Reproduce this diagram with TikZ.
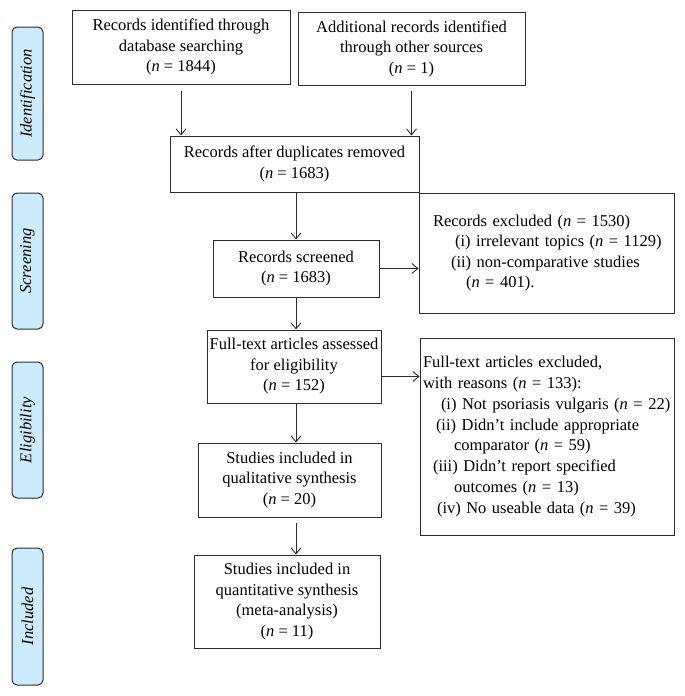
\documentclass[tikz,border=0pt]{standalone}
\usepackage{fontspec}
\setmainfont{Liberation Serif}
\usepackage{xcolor}
\usetikzlibrary{positioning,arrows,arrows.meta}

\definecolor{stageblue}{RGB}{204,235,252}
\definecolor{lineg}{RGB}{45,45,45}

\tikzset{
  box/.style={rectangle, draw=lineg, line width=1pt, align=center, inner sep=2pt,
    font=\fontsize{16.5}{20.5}\selectfont},
  excl/.style={box, align=left, inner xsep=3pt},
  stage/.style={rectangle, rounded corners=5pt, draw=lineg, fill=stageblue, line width=1pt,
    rotate=90, minimum height=31pt, font=\fontsize{16.5}{19}\selectfont\itshape},
  flow/.style={-{Straight Barb[length=6pt, width=10pt]}, draw=lineg, line width=0.9pt}
}

\begin{document}
\begin{tikzpicture}[x=1pt, y=-1pt]
    \useasboundingbox (0,0) rectangle (685,696);

    % Stages
    \node[stage, minimum width=133pt] (sident) at (27.5,93.5) {Identification};
    \node[stage, minimum width=136pt] (sscreen) at (27.5,261) {Screening};
    \node[stage, minimum width=136pt] (selig) at (27.5,430) {Eligibility};
    \node[stage, minimum width=137pt] (sincl) at (27.5,616.5) {Included};

    % Nodes
    \node[box, minimum width=218pt, minimum height=74pt] (dbrec) at (181,47) {Records identified through\\database searching\\(\textit{n} = 1844)};
    \node[box, minimum width=227pt, minimum height=73pt] (otherrec) at (411.5,48.5) {Additional records identified\\through other sources\\(\textit{n} = 1)};
    \node[box, minimum width=249pt, minimum height=56pt] (dedup) at (294.5,164) {Records after duplicates removed\\(\textit{n} = 1683)};
    \node[box, minimum width=166pt, minimum height=57pt] (screened) at (296,268.5) {Records screened\\(\textit{n} = 1683)};
    \node[box, minimum width=174pt, minimum height=73pt] (fulltext) at (294,366.5) {Full-text articles assessed\\for eligibility\\(\textit{n} = 152)};
    \node[box, minimum width=183pt, minimum height=74pt] (qual) at (289.5,480) {Studies included in\\qualitative synthesis\\(\textit{n} = 20)};
    \node[box, minimum width=186pt, minimum height=93pt] (quant) at (287,601.5) {Studies included in\\quantitative synthesis\\(meta-analysis)\\(\textit{n} = 11)};

    % Exclusions
    \node[excl, text width=249pt, minimum height=120pt] (exscreen) at (546.5,253) {%
      \hspace*{11pt}Records excluded (\textit{n} = 1530)\\
      \hspace*{33pt}(i) irrelevant topics (\textit{n} = 1129)\\
      \hspace*{29pt}(ii) non-comparative studies\\
      \hspace*{44pt}(\textit{n} = 401).};
    \node[excl, text width=248pt, minimum height=197pt, font=\fontsize{16.5}{20.8}\selectfont] (exfull) at (547,436.5) {%
      Full-text articles excluded,\\
      with reasons (\textit{n} = 133):\\
      \hspace*{18pt}(i) Not psoriasis vulgaris (\textit{n} = 22)\\
      \hspace*{13pt}(ii) Didn't include appropriate\\
      \hspace*{31pt}comparator (\textit{n} = 59)\\
      \hspace*{10pt}(iii) Didn't report specified\\
      \hspace*{31pt}outcomes (\textit{n} = 13)\\
      \hspace*{14pt}(iv) No useable data (\textit{n} = 39)};

    % Arrows
    \coordinate (spine) at (296,0);
    \draw[flow] (dbrec.south) ++(0,6) -- (dbrec.south |- dedup.north);
    \draw[flow] (otherrec.south) ++(0,5) -- (otherrec.south |- dedup.north);
    \draw[flow] (dedup.south -| spine) -- (screened.north -| spine);
    \draw[flow] (screened.south -| spine) -- (fulltext.north -| spine);
    \draw[flow] (fulltext.south -| spine) -- (qual.north -| spine);
    \draw[flow] (qual.south -| spine) ++(0,5) -- (quant.north -| spine);
    \draw[flow] (screened.east) -- (screened.east -| exscreen.west);
    \draw[flow] ([yshift=-10pt]fulltext.east) coordinate (ftout) -- (ftout -| exfull.west);
\end{tikzpicture}
\end{document}
